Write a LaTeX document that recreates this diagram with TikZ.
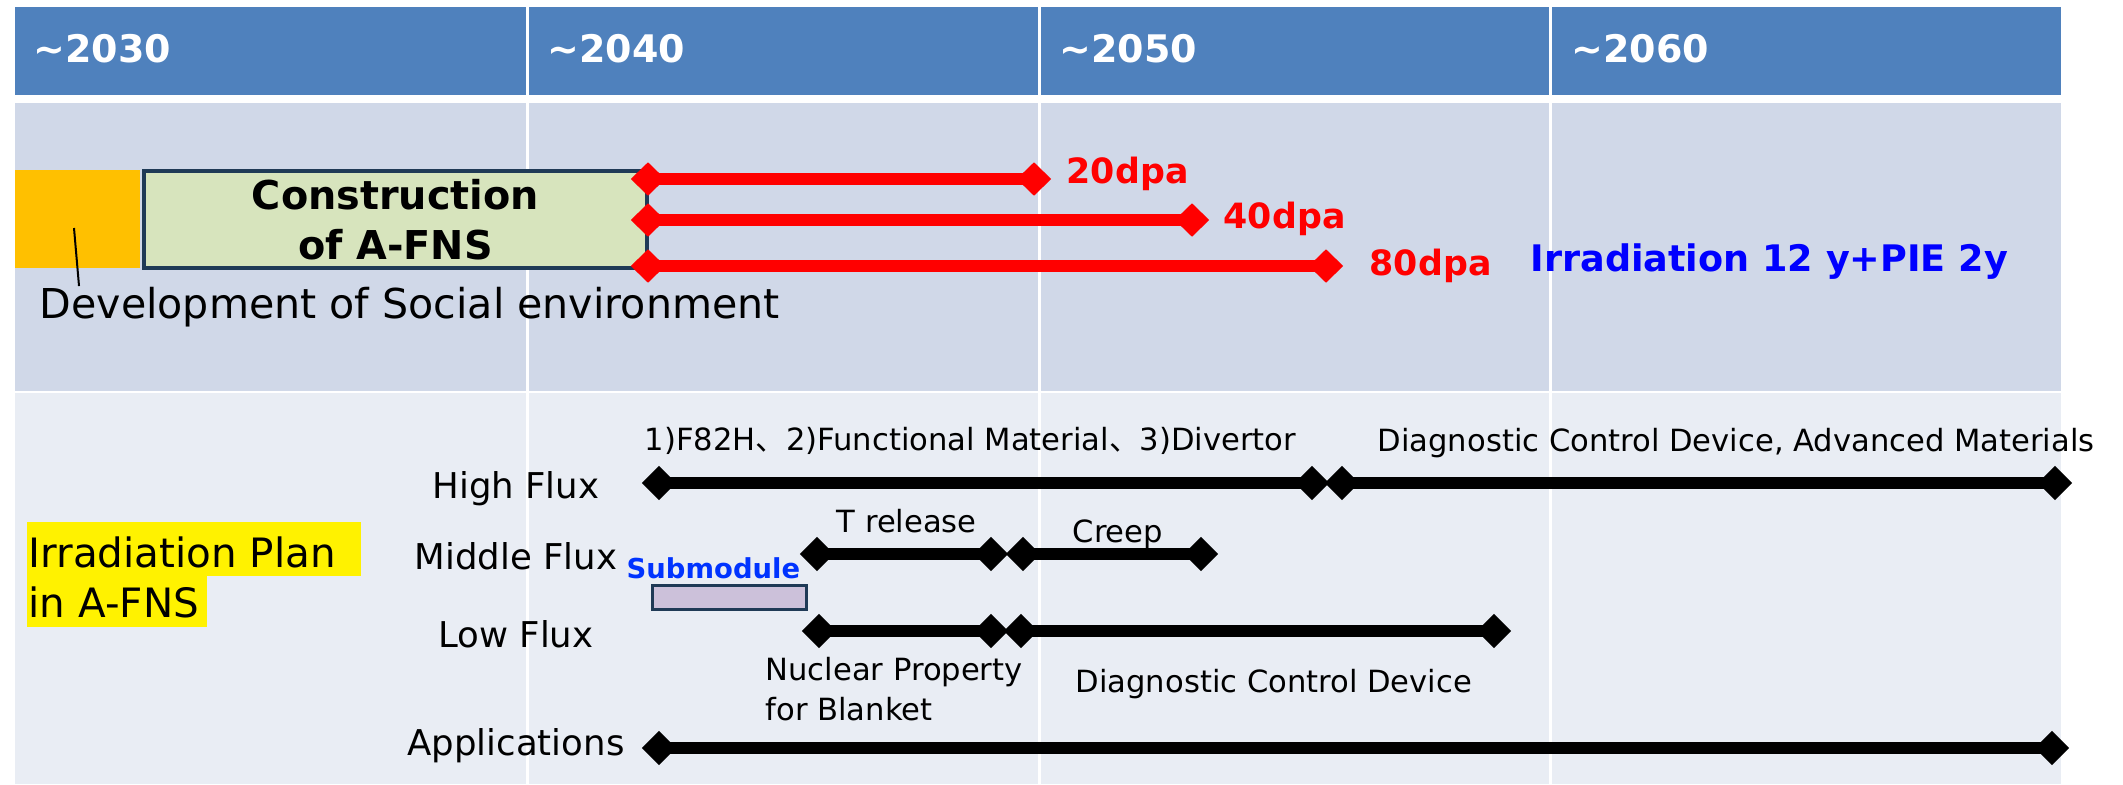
\documentclass[tikz,border=0pt]{standalone}
\usepackage{fontspec}
\setmainfont{DejaVu Sans}
\newfontfamily\jpfont{Noto Sans CJK JP}
\usetikzlibrary{shapes.geometric}
\definecolor{hdrblue}{HTML}{4F81BD}
\definecolor{rowa}{HTML}{D0D8E8}
\definecolor{rowb}{HTML}{E9EDF4}
\definecolor{constrgreen}{HTML}{D7E4BD}
\definecolor{navy}{HTML}{1F3A56}
\definecolor{socorange}{HTML}{FFC000}
\definecolor{lavender}{HTML}{CCC1DA}
\definecolor{irrblue}{HTML}{0000FF}
\definecolor{subblue}{HTML}{0033FF}
\begin{document}
\begin{tikzpicture}[x=0.01cm,y=-0.01cm,
    rdia/.style={diamond,fill=red,inner sep=0pt,minimum width=0.35cm,minimum height=0.34cm},
    kdia/.style={diamond,fill=black,inner sep=0pt,minimum width=0.35cm,minimum height=0.35cm},
    rbar/.style={red,line width=0.12cm},
    kbar/.style={black,line width=0.12cm},
    yeartxt/.style={text=white,font=\bfseries\fontsize{10.8}{12}\selectfont,anchor=base west,inner sep=0pt},
    dpa/.style={text=red,font=\bfseries\fontsize{9.9}{12}\selectfont,anchor=base west,inner sep=0pt},
    plan/.style={font=\fontsize{11.5}{14}\selectfont,anchor=base west,inner sep=0pt},
    flux/.style={font=\fontsize{10.1}{12}\selectfont,anchor=base,inner sep=0pt},
    note/.style={font=\fontsize{8.7}{10}\selectfont,anchor=base west,inner sep=0pt}]
      \useasboundingbox (0,0) rectangle (2123,784) ;
      % table
      \fill[hdrblue] (15,7) rectangle (2061,95) ;
      \fill[rowa] (15,103) rectangle (2061,391) ;
      \fill[rowb] (15,393) rectangle (2061,784) ;
      \draw[white,line width=0.03cm] (527,7) -- (527,784) ;
      \draw[white,line width=0.03cm] (1039,7) -- (1039,784) ;
      \draw[white,line width=0.03cm] (1550,7) -- (1550,784) ;
      \node[yeartxt] (y30) at (33,62) {\textasciitilde 2030} ;
      \node[yeartxt] (y40) at (547,62) {\textasciitilde 2040} ;
      \node[yeartxt] (y50) at (1059,62) {\textasciitilde 2050} ;
      \node[yeartxt] (y60) at (1571,62) {\textasciitilde 2060} ;
      % construction
      \fill[socorange] (15,170) rectangle (140,268) ;
      \node[draw=navy,line width=0.04cm,fill=constrgreen,minimum width=5.03cm,minimum height=0.97cm,
        align=center,inner sep=0pt,font=\bfseries\fontsize{11.3}{14.2}\selectfont] (constr) at (395.5,219.5) {Construction\\of A-FNS} ;
      \node[plan,font=\fontsize{11.7}{14}\selectfont] (social) at (39,318) {Development of Social environment} ;
      \coordinate (socp) at (74,228) ;
      \draw[line width=0.02cm] (socp) -- ([xshift=0.4cm]social.north west) ;
      \node[rdia] (r1a) at (648,179) {} ;
      \node[rdia] (r1b) at (1034,179) {} ;
      \node[rdia] (r2a) at (648,220) {} ;
      \node[rdia] (r2b) at (1192,220) {} ;
      \node[rdia] (r3a) at (648,266) {} ;
      \node[rdia] (r3b) at (1326,266) {} ;
      \draw[rbar] (r1a.center) -- (r1b.center) ;
      \draw[rbar] (r2a.center) -- (r2b.center) ;
      \draw[rbar] (r3a.center) -- (r3b.center) ;
      \node[dpa] (d20) at (1066,183) {20dpa} ;
      \node[dpa] (d40) at (1223,228) {40dpa} ;
      \node[dpa] (d80) at (1369,275) {80dpa} ;
      \node[dpa,text=irrblue,font=\bfseries\fontsize{10.4}{12}\selectfont] (irr) at (1530,271) {Irradiation 12 y+PIE 2y} ;
      % irradiation plan
      \fill[yellow] (27,522) rectangle (361,576) ;
      \fill[yellow] (27,576) rectangle (207,627) ;
      \node[plan] (plan1) at (28,567) {Irradiation Plan} ;
      \node[plan] (plan2) at (28,617) {in A-FNS} ;
      \node[flux] (high) at (516,498) {High Flux} ;
      \node[flux] (mid) at (516,569) {Middle Flux} ;
      \node[flux] (low) at (516,647) {Low Flux} ;
      \node[flux] (app) at (516,755) {Applications} ;
      \node[kdia] (h1) at (659,483) {} ;
      \node[kdia] (h2) at (1312,483) {} ;
      \node[kdia] (h3) at (1342,483) {} ;
      \node[kdia] (h4) at (2055,483) {} ;
      \draw[kbar] (h1.center) -- (h2.center) ;
      \draw[kbar] (h3.center) -- (h4.center) ;
      \node[note] (hn1) at (644,450) {1)F82H{\jpfont 、}2)Functional Material{\jpfont 、}3)Divertor} ;
      \node[note] (hn2) at (1377,451) {Diagnostic Control Device, Advanced Materials} ;
      \node[kdia] (m1) at (817,554) {} ;
      \node[kdia] (m2) at (991,554) {} ;
      \node[kdia] (m3) at (1023,554) {} ;
      \node[kdia] (m4) at (1201,554) {} ;
      \draw[kbar] (m1.center) -- (m2.center) ;
      \draw[kbar] (m3.center) -- (m4.center) ;
      \node[note] (trel) at (836,532) {T release} ;
      \node[note] (creep) at (1072,542) {Creep} ;
      \node[note,text=subblue,font=\bfseries\fontsize{7.8}{9}\selectfont] (sublbl) at (626,578) {Submodule} ;
      \node[draw=navy,line width=0.03cm,fill=lavender,minimum width=1.54cm,minimum height=0.24cm,inner sep=0pt] (submod) at (729.5,597.5) {} ;
      \node[kdia] (l1) at (819,631) {} ;
      \node[kdia] (l2) at (991,631) {} ;
      \node[kdia] (l3) at (1021,631) {} ;
      \node[kdia] (l4) at (1494,631) {} ;
      \draw[kbar] (l1.center) -- (l2.center) ;
      \draw[kbar] (l3.center) -- (l4.center) ;
      \node[note] (nucl) at (765,680) {Nuclear Property} ;
      \node[note] (blanket) at (765,720) {for Blanket} ;
      \node[note] (diag) at (1075,692) {Diagnostic Control Device} ;
      \node[kdia] (a1) at (659,748) {} ;
      \node[kdia] (a2) at (2052,748) {} ;
      \draw[kbar] (a1.center) -- (a2.center) ;
    \end{tikzpicture}
\end{document}
